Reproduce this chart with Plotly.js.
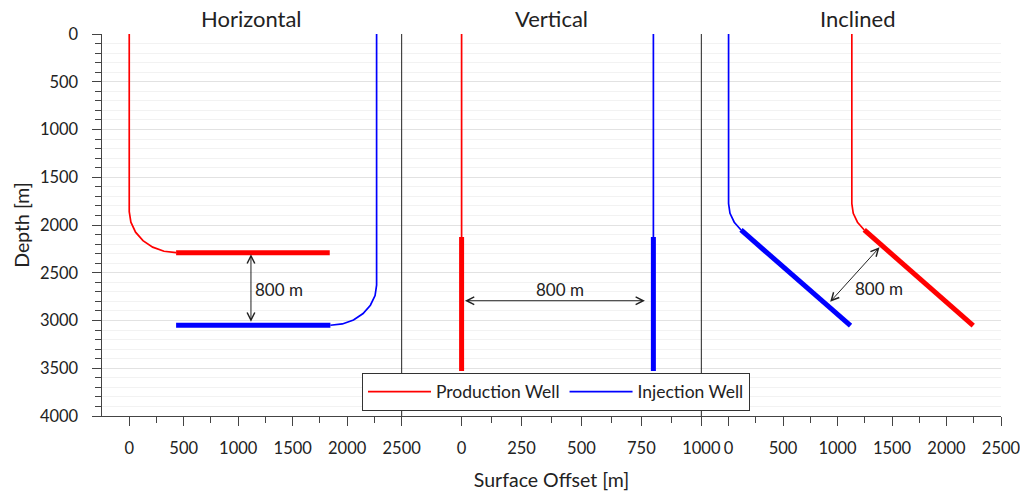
<!DOCTYPE html>
<html>
<head>
<meta charset="utf-8">
<script src="https://cdn.plot.ly/plotly-3.0.1.min.js"></script>
<style>html,body{margin:0;padding:0;background:#fff;}#chart{width:1020px;height:491px;}</style>
</head>
<body>
<div id="chart"></div>
<script>
// ---- Data ----
const panelTitles = ["Horizontal", "Vertical", "Inclined"];
const seriesNames = ["Production Well", "Injection Well"];

// Tick labels per panel
const xTicks1 = [0, 500, 1000, 1500, 2000, 2500];
const xTicks2 = [0, 250, 500, 750, 1000];
const xTicks3 = [0, 500, 1000, 1500, 2000, 2500];

// Horizontal panel
const hProdX = [0, 0, 15, 58, 126, 215, 319, 430];
const hProdY = [0, 1860, 1971, 2075, 2164, 2232, 2275, 2290];
const hProdLatX = [430, 1840];
const hProdLatY = [2290, 2290];
const hInjX = [2270, 2270, 2256, 2213, 2146, 2058, 1956, 1846];
const hInjY = [0, 2630, 2739, 2840, 2927, 2994, 3036, 3050];
const hInjLatX = [1846, 430];
const hInjLatY = [3050, 3050];

// Vertical panel
const vProdX = [0, 0];
const vProdY = [0, 3530];
const vProdLatX = [0, 0];
const vProdLatY = [2125, 3530];
const vInjX = [800, 800];
const vInjY = [0, 3530];
const vInjLatX = [800, 800];
const vInjLatY = [2125, 3530];

// Inclined panel
const iInjX = [0, 0, 13, 52, 114];
const iInjY = [0, 1776, 1877, 1971, 2052];
const iInjLatX = [114, 1119];
const iInjLatY = [2052, 3054];
const iProdX = [1131, 1131, 1144, 1183, 1245];
const iProdY = [0, 1776, 1877, 1971, 2052];
const iProdLatX = [1245, 2245];
const iProdLatY = [2052, 3054];

// Spacing arrows: [x head, y head, x tail, y tail]
const hArrow = [1117, 2305, 1117, 3030];
const vArrow = [14, 2793, 771, 2793];
const iArrow = [1385, 2234, 920, 2820];
const spacingLabel = "800 m";
const hLabelPos = [1135, 2680];
const vLabelPos = [410, 2680];
const iLabelPos = [1143, 2663];

// ---- Styling ----
const RED = "#ff0000", BLUE = "#0000ff";
const THIN = 1.7, THICK = 5;
const FONT = "Lato, 'Open Sans', sans-serif";

function tr(x, y, xa, color, width, name, showlegend) {
  return {
    type: "scatter", mode: "lines", x: x, y: y, xaxis: xa, yaxis: "y",
    line: {color: color, width: width},
    name: name, legendgroup: name, showlegend: !!showlegend, hoverinfo: "skip"
  };
}

const traces = [
  tr(hProdX, hProdY, "x", RED, THIN, seriesNames[0], true),
  tr(hInjX, hInjY, "x", BLUE, THIN, seriesNames[1], true),
  tr(hProdLatX, hProdLatY, "x", RED, THICK, seriesNames[0]),
  tr(hInjLatX, hInjLatY, "x", BLUE, THICK, seriesNames[1]),
  tr(vProdX, vProdY, "x2", RED, THIN, seriesNames[0]),
  tr(vInjX, vInjY, "x2", BLUE, THIN, seriesNames[1]),
  tr(vProdLatX, vProdLatY, "x2", RED, THICK, seriesNames[0]),
  tr(vInjLatX, vInjLatY, "x2", BLUE, THICK, seriesNames[1]),
  tr(iInjX, iInjY, "x3", BLUE, THIN, seriesNames[1]),
  tr(iProdX, iProdY, "x3", RED, THIN, seriesNames[0]),
  tr(iInjLatX, iInjLatY, "x3", BLUE, THICK, seriesNames[1]),
  tr(iProdLatX, iProdLatY, "x3", RED, THICK, seriesNames[0])
];

const tickFont = {family: FONT, size: 16.5, color: "#222"};
function xAxis(domain, range, ticks, minorVals) {
  return {
    domain: domain, range: range, anchor: "y",
    tickmode: "array", tickvals: ticks, ticktext: ticks.map(String),
    ticks: "outside", ticklen: 9, tickwidth: 1, tickcolor: "#444",
    showline: true, linecolor: "#444", linewidth: 1,
    showgrid: false, zeroline: false,
    tickfont: tickFont, ticklabelstandoff: 8, ticklabeloverflow: "allow",
    minor: {tickmode: "array", tickvals: minorVals, ticks: "outside", ticklen: 6, tickwidth: 1, tickcolor: "#444", showgrid: false},
    fixedrange: true
  };
}

const d1 = [0, 1/3], d2 = [1/3, 2/3], d3 = [2/3, 1];

function arrow(a, xa) {
  return {
    x: a[0], y: a[1], ax: a[2], ay: a[3],
    xref: xa, yref: "y", axref: xa, ayref: "y",
    text: "", showarrow: true, arrowside: "end+start",
    arrowhead: 5, startarrowhead: 5, arrowsize: 1.5, startarrowsize: 1.5,
    arrowwidth: 1, arrowcolor: "#222", standoff: 0, startstandoff: 0
  };
}
function label(pos, xa, anchor) {
  return {
    x: pos[0], y: pos[1], xref: xa, yref: "y", text: spacingLabel,
    showarrow: false, xanchor: anchor, yanchor: "middle",
    font: {family: FONT, size: 17, color: "#222"}
  };
}
function ptitle(text, x) {
  return {
    x: x, y: 1, xref: "paper", yref: "paper", text: text,
    showarrow: false, xanchor: "center", yanchor: "bottom", yshift: 0,
    font: {family: FONT, size: 22, color: "#222"}
  };
}

const layout = {
  width: 1020, height: 491,
  margin: {l: 102, r: 19, t: 34, b: 75, pad: 0},
  paper_bgcolor: "#fff", plot_bgcolor: "#fff",
  font: {family: FONT, color: "#222"},
  showlegend: true,
  legend: {
    orientation: "h", x: 0.505, xanchor: "center", y: 0.014, yanchor: "bottom",
    bgcolor: "#fff", bordercolor: "#333", borderwidth: 1,
    font: {family: FONT, size: 17.5, color: "#222"},
    itemwidth: 63, traceorder: "normal"
  },
  xaxis: xAxis(d1, [-250, 2500], xTicks1, [250, 750, 1250, 1750, 2250]),
  xaxis2: Object.assign(xAxis(d2, [-250, 1000], xTicks2, [125, 375, 625, 875]), {
    title: {text: "Surface Offset [m]", font: {family: FONT, size: 19.5, color: "#222"}, standoff: 16}
  }),
  xaxis3: xAxis(d3, [-250, 2500], xTicks3, [250, 750, 1250, 1750, 2250]),
  yaxis: {
    range: [4000, 0], tickmode: "linear", tick0: 0, dtick: 500,
    ticks: "outside", ticklen: 9, tickwidth: 1, tickcolor: "#444",
    showline: true, linecolor: "#444", linewidth: 1.5,
    showgrid: true, gridcolor: "#e2e2e2", gridwidth: 1, zeroline: false,
    tickfont: tickFont, ticklabelstandoff: 10,
    minor: {dtick: 100, tick0: 0, ticks: "outside", ticklen: 6, tickwidth: 1, tickcolor: "#444", showgrid: true, gridcolor: "#f2f2f2", gridwidth: 1},
    title: {text: "Depth [m]", font: {family: FONT, size: 19.5, color: "#222"}, standoff: 5},
    fixedrange: true
  },
  shapes: [
    {type: "line", xref: "paper", yref: "paper", x0: 1/3, x1: 1/3, y0: 0, y1: 1, line: {color: "#222", width: 1}, layer: "above"},
    {type: "line", xref: "paper", yref: "paper", x0: 2/3, x1: 2/3, y0: 0, y1: 1, line: {color: "#222", width: 1}, layer: "above"}
  ],
  annotations: [
    ptitle(panelTitles[0], 1/6),
    ptitle(panelTitles[1], 0.5),
    ptitle(panelTitles[2], 0.8403),
    arrow(hArrow, "x"), arrow(vArrow, "x2"), arrow(iArrow, "x3"),
    label(hLabelPos, "x", "left"), label(vLabelPos, "x2", "center"), label(iLabelPos, "x3", "left")
  ]
};

Plotly.newPlot("chart", traces, layout, {staticPlot: true, displayModeBar: false});
</script>
</body>
</html>
